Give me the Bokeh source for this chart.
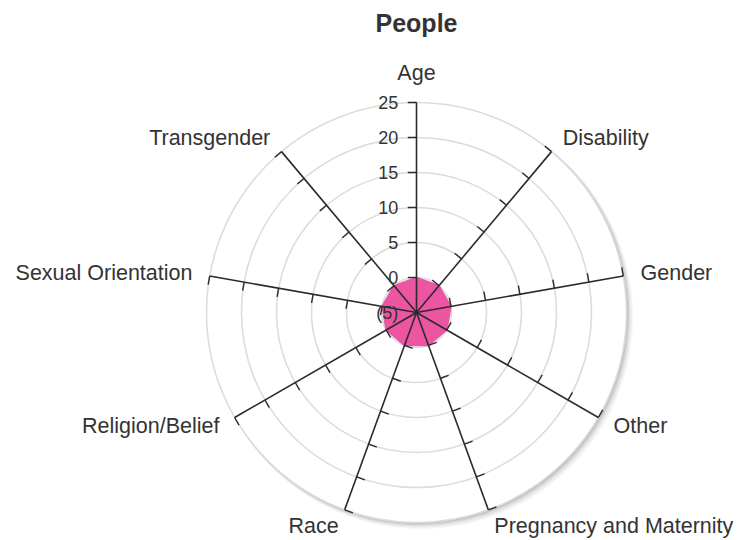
import numpy as np
from bokeh.plotting import figure
from bokeh.models import Range1d
from bokeh.core.properties import value
from bokeh.embed import file_html
from bokeh.resources import INLINE

title = "People"
categories = ["Age", "Disability", "Gender", "Other", "Pregnancy and Maternity",
              "Race", "Religion/Belief", "Sexual Orientation", "Transgender"]
values = [0, 0, 0, 0, 0, 0, 0, 0, 0]
axis_min = -5
axis_max = 25
tick_values = [-5, 0, 5, 10, 15, 20, 25]
tick_labels = ["(5)", "0", "5", "10", "15", "20", "25"]
grid_values = [0, 5, 10, 15, 20, 25]

FONT = "Liberation Sans"
W, H = 746, 540
CX, CY = 416, 312   # centre in figure pixels
S = 7.0             # pixels per unit

p = figure(width=W, height=H, output_backend="svg", toolbar_location=None,
           x_range=Range1d(-CX / S, (W - CX) / S),
           y_range=Range1d(-(H - CY) / S, CY / S),
           x_axis_location=None, y_axis_location=None,
           min_border=0, outline_line_color=None)
p.grid.visible = False
p.background_fill_color = "white"
p.border_fill_color = "white"

R = axis_max - axis_min
n = len(categories)
ang = np.deg2rad(90 - np.arange(n) * 360.0 / n)
ux, uy = np.cos(ang), np.sin(ang)

# soft shadow of the plot disc
for k, a in [(5, 0.03), (4, 0.04), (3, 0.05), (2, 0.07), (1, 0.09)]:
    p.circle(x=[0.13 * k], y=[-0.13 * k], radius=R + 0.06 * k,
             fill_color="black", fill_alpha=a, line_color=None)
p.circle(x=[0], y=[0], radius=R, fill_color="white", line_color=None)

# circular gridlines
gr = [g - axis_min for g in grid_values]
p.circle(x=[0] * len(gr), y=[0] * len(gr), radius=gr, fill_color=None,
         line_color="#dcdcdc", line_width=1.6)

# data polygon
rv = np.array(values) - axis_min
p.patch(list(rv * ux), list(rv * uy), fill_color="#EB55A2", line_color="#EB55A2",
        line_width=1.5)

# spokes
p.segment(x0=[0] * n, y0=[0] * n, x1=list(R * ux), y1=list(R * uy),
          line_color="#2b2b2b", line_width=1.6)

# tick marks on each spoke (counter-clockwise side)
L = 1.25
tx0, ty0, tx1, ty1 = [], [], [], []
for i in range(n):
    px, py = -uy[i], ux[i]
    for v in tick_values:
        if v <= axis_min:
            continue
        r = v - axis_min
        bx, by = r * ux[i], r * uy[i]
        tx0.append(bx); ty0.append(by)
        tx1.append(bx + L * px); ty1.append(by + L * py)
p.segment(x0=tx0, y0=ty0, x1=tx1, y1=ty1, line_color="#2b2b2b", line_width=1.4)

# radial tick labels (on the first axis)
p.text(x=[-2.6] * len(tick_values), y=[v - axis_min for v in tick_values],
       text=tick_labels, text_align="right", text_baseline="middle",
       text_font=value(FONT), text_font_size="18px", text_color="#333333")

# category labels
LR = R + 2.5
lx = list(LR * ux)
ly = list(LR * uy)
align = ["center" if abs(c) < 0.01 else ("left" if c > 0 else "right") for c in ux]
base = ["bottom" if s > 0.99 else "middle" for s in uy]
p.text(x=lx, y=ly, text=categories, text_align=align, text_baseline=base,
       text_font=value(FONT), text_font_size="21.5px", text_color="#333333")

# title
p.text(x=[0], y=[41.4], text=[title], text_align="center", text_baseline="middle",
       text_font=value(FONT), text_font_size="25px", text_font_style="bold",
       text_color="#333333")

open("out.html", "w").write(file_html(p, INLINE))
